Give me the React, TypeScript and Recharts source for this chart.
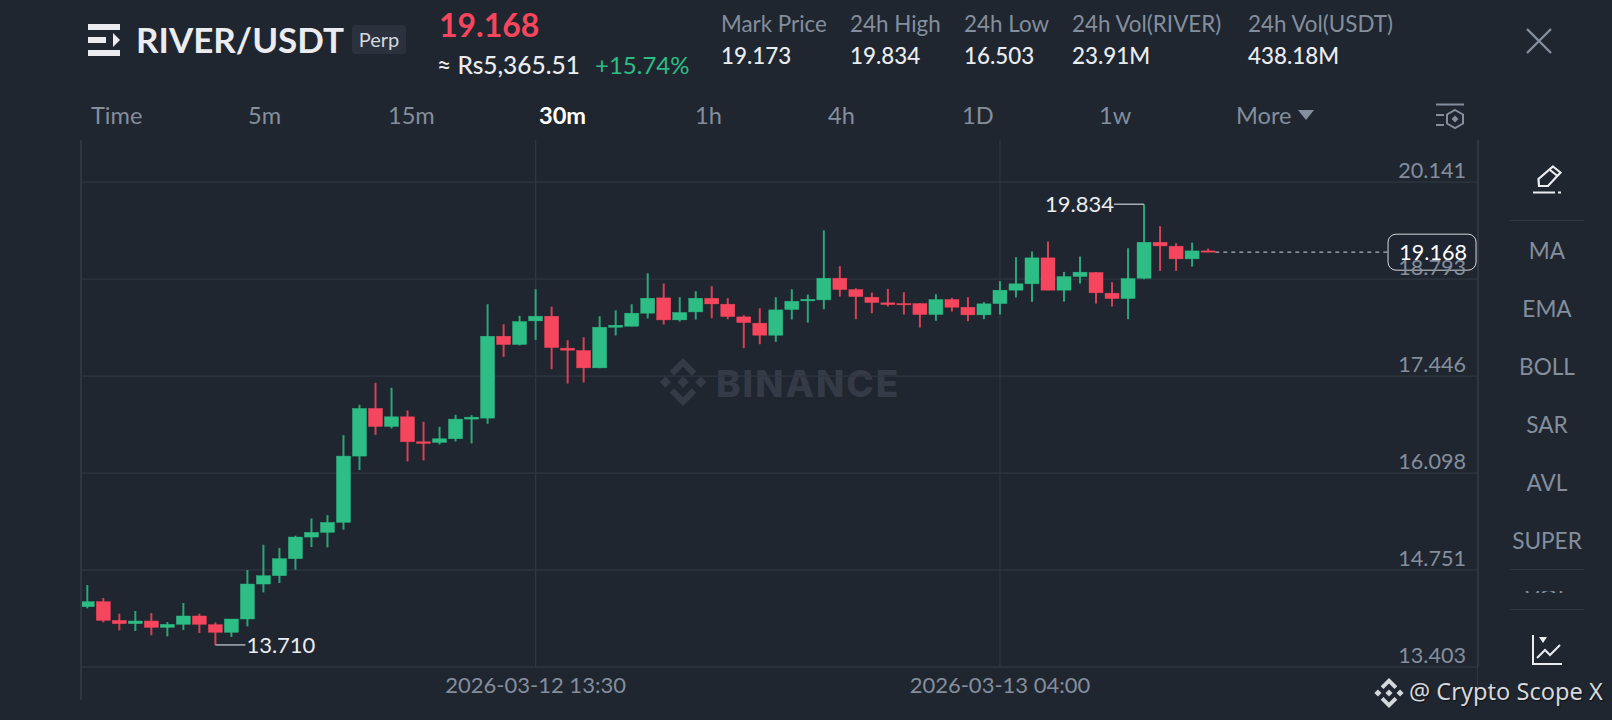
import {
  Bar,
  CartesianGrid,
  ComposedChart,
  ReferenceDot,
  ReferenceLine,
  XAxis,
  YAxis,
} from "recharts";

const opens = [
  14.241, 14.311, 14.051, 14.005, 14.042, 13.954, 13.996, 14.112, 13.991, 13.885, 14.07, 14.556,
  14.672, 14.908, 15.209, 15.274, 15.413, 16.334, 16.996, 16.746, 16.88, 16.533, 16.524, 16.575,
  16.848, 16.862, 18.0, 17.885, 18.213, 18.278, 17.834, 17.801, 17.56, 18.125, 18.139, 18.32,
  18.533, 18.227, 18.338, 18.528, 18.445, 18.269, 18.181, 18.014, 18.371, 18.491, 18.505, 18.806,
  18.648, 18.542, 18.464, 18.454, 18.454, 18.302, 18.51, 18.403, 18.297, 18.454, 18.64, 18.728,
  19.089, 18.64, 18.829, 18.885, 18.598, 18.524, 18.806, 19.306, 19.251, 19.075, 19.186,
];
const closes = [
  14.311, 14.051, 14.005, 14.042, 13.954, 13.996, 14.112, 13.996, 13.885, 14.07, 14.556, 14.672,
  14.908, 15.209, 15.274, 15.413, 16.334, 16.996, 16.746, 16.88, 16.533, 16.51, 16.575, 16.848,
  16.875, 18.0, 17.885, 18.204, 18.278, 17.843, 17.806, 17.56, 18.125, 18.153, 18.32, 18.528,
  18.227, 18.329, 18.528, 18.449, 18.273, 18.19, 18.014, 18.366, 18.486, 18.514, 18.806, 18.648,
  18.551, 18.468, 18.44, 18.436, 18.302, 18.51, 18.403, 18.297, 18.45, 18.64, 18.728, 19.089,
  18.64, 18.829, 18.89, 18.603, 18.524, 18.802, 19.306, 19.255, 19.075, 19.186, 19.168,
];
const highs = [
  14.542, 14.362, 14.144, 14.181, 14.153, 14.028, 14.292, 14.144, 14.024, 14.07, 14.75, 15.102,
  15.056, 15.228, 15.468, 15.514, 16.625, 17.047, 17.352, 17.283, 16.968, 16.811, 16.741, 16.908,
  16.903, 18.445, 18.167, 18.283, 18.653, 18.412, 17.945, 17.986, 18.278, 18.361, 18.445, 18.875,
  18.732, 18.542, 18.625, 18.695, 18.528, 18.292, 18.389, 18.542, 18.653, 18.579, 19.472, 18.972,
  18.667, 18.607, 18.658, 18.612, 18.459, 18.584, 18.533, 18.542, 18.473, 18.765, 19.098, 19.177,
  19.316, 18.894, 19.107, 18.89, 18.751, 19.223, 19.834, 19.528, 19.292, 19.302, 19.218,
];
const lows = [
  14.218, 14.024, 13.913, 13.903, 13.843, 13.829, 13.917, 13.875, 13.71, 13.82, 13.968, 14.44,
  14.57, 14.755, 15.07, 15.065, 15.311, 16.139, 16.63, 16.718, 16.26, 16.274, 16.496, 16.537,
  16.51, 16.783, 17.713, 17.871, 17.949, 17.542, 17.343, 17.357, 17.556, 18.01, 18.135, 18.246,
  18.162, 18.204, 18.232, 18.25, 18.236, 17.834, 17.889, 17.922, 18.232, 18.19, 18.375, 18.551,
  18.236, 18.32, 18.413, 18.302, 18.121, 18.214, 18.343, 18.209, 18.237, 18.302, 18.538, 18.478,
  18.64, 18.482, 18.732, 18.454, 18.413, 18.237, 18.792, 18.908, 18.908, 18.968, 19.168,
];
const priceTicks = [13.403, 14.751, 16.098, 17.446, 18.793, 20.141];
const timeTicks = [28, 57];
const timeLabels = ["2026-03-12 13:30", "2026-03-13 04:00"];
const intervals = ["Time", "5m", "15m", "30m", "1h", "4h", "1D", "1w"];
const intervalLeft = [91, 248, 388, 539, 695, 828, 962, 1099];
const statLabels = ["Mark Price", "24h High", "24h Low", "24h Vol(RIVER)", "24h Vol(USDT)"];
const statValues = ["19.173", "19.834", "16.503", "23.91M", "438.18M"];
const statLeft = [721, 850, 964, 1072, 1248];
const indicators = ["MA", "EMA", "BOLL", "SAR", "AVL", "SUPER"];
const indicatorTop = [251, 309, 367, 425, 483, 541];

const lastPrice = 19.168;
const highest = 19.834;
const lowest = 13.71;

const candles = opens.map((open, i) => ({
  i,
  open,
  close: closes[i],
  high: highs[i],
  low: lows[i],
  range: [lows[i], highs[i]],
}));

const BG = "#1f2630";
const UP = "#2ebd85";
const DOWN = "#f6465d";
const GRID = "#2f3641";
const MUTED = "#848e9c";
const TEXT = "#eaecef";
const FONT = "Lato, Inter, sans-serif";

function Candle(props: any) {
  const { x, y, width, height, payload } = props;
  const { open, close, high, low } = payload;
  const up = close >= open;
  const color = up ? UP : DOWN;
  const perUnit = height / (high - low);
  const top = y + (high - Math.max(open, close)) * perUnit;
  const bodyH = Math.max(Math.abs(open - close) * perUnit, 1);
  const cx = x + width / 2;
  return (
    <g>
      <line x1={cx} x2={cx} y1={y} y2={y + height} stroke={color} strokeOpacity={0.85} strokeWidth={2} />
      <rect x={x} y={top} width={width} height={bodyH} fill={color} stroke={color} strokeOpacity={0.85} strokeWidth={0.5} />
    </g>
  );
}

function PriceTick(props: any) {
  const { y, payload } = props;
  return (
    <text x={1466} y={y - 4} textAnchor="end" fill={MUTED} fontSize={21.6} fontFamily={FONT}>
      {payload.value.toFixed(3)}
    </text>
  );
}

function TimeTick(props: any) {
  const { x, payload } = props;
  return (
    <text x={x} y={693} textAnchor="middle" fill={MUTED} fontSize={22} fontFamily={FONT}>
      {timeLabels[timeTicks.indexOf(payload.value)]}
    </text>
  );
}

function HighMark({ cx, cy }: any) {
  return (
    <g>
      <path d={`M${cx} ${cy} H${cx - 30}`} stroke="#a9aeb6" strokeWidth={1.5} fill="none" />
      <text x={cx - 30} y={cy + 8} textAnchor="end" fill={TEXT} fontSize={22} fontFamily={FONT}>
        {highest.toFixed(3)}
      </text>
    </g>
  );
}

function LowMark({ cx, cy }: any) {
  return (
    <g>
      <path d={`M${cx} ${cy} H${cx + 30}`} stroke="#a9aeb6" strokeWidth={1.5} fill="none" />
      <text x={cx + 31} y={cy + 8} fill={TEXT} fontSize={22} fontFamily={FONT}>
        {lowest.toFixed(3)}
      </text>
    </g>
  );
}

function LastTag({ cx, cy }: any) {
  return (
    <g>
      <rect x={cx - 1} y={cy - 18} width={88} height={36} rx={8} fill={BG} fillOpacity={0.85} stroke="#d5d8dd" strokeWidth={1} />
      <text x={cx + 78} y={cy + 8} textAnchor="end" fill="#ffffff" fontSize={21.6} fontFamily={FONT}>
        {lastPrice.toFixed(3)}
      </text>
    </g>
  );
}

function Label({ left, top, size, color, weight, children }: any) {
  return (
    <div
      style={{
        position: "absolute",
        left,
        top,
        transform: "translateY(-50%)",
        fontSize: size,
        color,
        fontWeight: weight ?? 400,
        whiteSpace: "nowrap",
        lineHeight: 1,
      }}
    >
      {children}
    </div>
  );
}

function Diamond({ x, y, size, color }: any) {
  const s = size / 2;
  const d = (cx: number, cy: number, r: number) =>
    `M${cx} ${cy - r}L${cx + r} ${cy}L${cx} ${cy + r}L${cx - r} ${cy}Z`;
  return (
    <svg style={{ position: "absolute", left: x - s, top: y - s }} width={size} height={size} viewBox="-19 -19 38 38">
      <path fill={color} d={d(0, 0, 4.5)} />
      <path fill={color} d={d(-14, 0, 4.5)} />
      <path fill={color} d={d(14, 0, 4.5)} />
      <path fill={color} d="M0 -19L10.5 -8.5L7 -5L0 -12L-7 -5L-10.5 -8.5Z" />
      <path fill={color} d="M0 19L10.5 8.5L7 5L0 12L-7 5L-10.5 8.5Z" />
    </svg>
  );
}

export default function App() {
  return (
    <div
      style={{
        position: "fixed",
        left: 0,
        top: 0,
        width: 1612,
        height: 720,
        background: BG,
        fontFamily: FONT,
        overflow: "hidden",
      }}
    >
      {/* header */}
      <svg style={{ position: "absolute", left: 88, top: 24 }} width={33} height={32} viewBox="0 0 33 32">
        <rect x={0} y={0} width={32} height={6} fill={TEXT} />
        <rect x={0} y={13} width={18} height={6} fill={TEXT} />
        <rect x={0} y={26} width={32} height={6} fill={TEXT} />
        <path d="M25 9L32 16L25 23Z" fill={TEXT} />
      </svg>
      <Label left={136} top={39} size={35} color={TEXT} weight={700}>RIVER/USDT</Label>
      <div
        style={{
          position: "absolute",
          left: 352,
          top: 25,
          width: 54,
          height: 29,
          background: "#2b323e",
          borderRadius: 4,
          color: "#d5d8dd",
          fontSize: 20,
          lineHeight: "28px",
          textAlign: "center",
        }}
      >
        Perp
      </div>
      <Label left={439} top={25} size={32} color={DOWN} weight={700}>19.168</Label>
      <Label left={437} top={65} size={24.5} color={TEXT} weight={500}>≈ Rs5,365.51</Label>
      <Label left={595} top={65} size={24} color={UP}>+15.74%</Label>
      {statLabels.map((s, i) => (
        <Label key={s} left={statLeft[i]} top={24} size={22.4} color={MUTED}>{s}</Label>
      ))}
      {statValues.map((s, i) => (
        <Label key={s} left={statLeft[i]} top={56} size={22.4} color={TEXT} weight={500}>{s}</Label>
      ))}
      <svg style={{ position: "absolute", left: 1526, top: 28 }} width={26} height={26}>
        <path d="M1 1L25 25M25 1L1 25" stroke={MUTED} strokeWidth={2.4} />
      </svg>

      {/* interval row */}
      {intervals.map((s, i) => (
        <Label
          key={s}
          left={intervalLeft[i]}
          top={116}
          size={23.6}
          color={s === "30m" ? "#ffffff" : MUTED}
          weight={s === "30m" ? 700 : 400}
        >
          {s}
        </Label>
      ))}
      <Label left={1236} top={116} size={23.6} color={MUTED}>More</Label>
      <svg style={{ position: "absolute", left: 1298, top: 110 }} width={16} height={10}>
        <path d="M0 0H16L8 10Z" fill={MUTED} />
      </svg>
      <svg style={{ position: "absolute", left: 1436, top: 103 }} width={28} height={27} fill="none" stroke={MUTED} strokeWidth={2}>
        <path d="M0 1.5H28M0 12H8M0 22H8" />
        <path d="M19 7L27 11.5V20.5L19 25L11 20.5V11.5Z" />
        <path d="M19 12.5L22.5 16L19 19.5L15.5 16Z" fill={MUTED} stroke="none" />
      </svg>

      {/* side panel */}
      <svg style={{ position: "absolute", left: 1533, top: 165 }} width={30} height={30} fill="none" stroke={TEXT} strokeWidth={2.2}>
        <path d="M20 1.5L27.5 7.5L15 21H6L5.5 14Z" />
        <path d="M17 5L24.5 11" />
        <path d="M0 27.5H22M25 27.5H28" />
      </svg>
      <div style={{ position: "absolute", left: 1510, top: 220, width: 74, height: 1, background: GRID }} />
      {indicators.map((s, i) => (
        <div
          key={s}
          style={{
            position: "absolute",
            left: 1497,
            width: 100,
            top: indicatorTop[i],
            transform: "translateY(-50%)",
            textAlign: "center",
            fontSize: 22.6,
            lineHeight: 1,
            color: MUTED,
          }}
        >
          {s}
        </div>
      ))}
      <div style={{ position: "absolute", left: 1510, top: 569, width: 74, height: 1, background: GRID }} />
      <div
        style={{
          position: "absolute",
          left: 1497,
          width: 100,
          top: 591,
          height: 2,
          overflow: "hidden",
          textAlign: "center",
          fontSize: 22.6,
          lineHeight: 1,
          color: MUTED,
        }}
      >
        <div style={{ marginTop: -4 }}>VOL</div>
      </div>
      <div style={{ position: "absolute", left: 1510, top: 609, width: 74, height: 1, background: GRID }} />
      <svg style={{ position: "absolute", left: 1532, top: 635 }} width={32} height={32} fill="none" stroke={TEXT} strokeWidth={2}>
        <path d="M1 0V29H30" />
        <path d="M5 23L13 15L18 20L28 10" />
        <path d="M7 2H15L11 8Z" fill={TEXT} stroke="none" />
      </svg>

      {/* watermark under the chart */}
      <Diamond x={683} y={382} size={48} color="#343b47" />
      <div
        style={{
          position: "absolute",
          left: 716,
          top: 383,
          transform: "translateY(-50%)",
          fontFamily: "Inter",
          fontWeight: 800,
          fontSize: 37,
          lineHeight: 1,
          letterSpacing: 2,
          color: "#343b47",
        }}
      >
        BINANCE
      </div>

      <div style={{ position: "absolute", left: 0, top: 0 }}>
        <ComposedChart
          width={1612}
          height={720}
          data={candles}
          margin={{ top: 140, right: 134, bottom: 0, left: 81 }}
        >
          <CartesianGrid stroke={GRID} strokeWidth={1.3} syncWithTicks />
          <XAxis
            dataKey="i"
            type="number"
            domain={[-0.394, 86.856]}
            allowDataOverflow
            ticks={timeTicks}
            tick={<TimeTick />}
            axisLine={false}
            tickLine={false}
            height={53}
          />
          <YAxis
            orientation="right"
            domain={[13.403, 20.727]}
            allowDataOverflow
            ticks={priceTicks}
            interval={0}
            tick={<PriceTick />}
            axisLine={false}
            tickLine={false}
            width={1}
            mirror
          />
          <ReferenceLine x={-0.394} stroke={GRID} strokeWidth={2} />
          <ReferenceLine x={86.856} stroke={GRID} strokeWidth={2} />
          <Bar dataKey="range" barSize={14} shape={<Candle />} isAnimationActive={false} />
          <ReferenceLine
            segment={[{ x: 70.45, y: lastPrice }, { x: 81.3, y: lastPrice }]}
            stroke="#a9aeb6"
            strokeWidth={1.3}
            strokeDasharray="4 4"
          />
          <ReferenceDot x={66} y={highest} r={0} shape={<HighMark />} />
          <ReferenceDot x={8} y={lowest} r={0} shape={<LowMark />} />
          <ReferenceDot x={81.3} y={lastPrice} r={0} shape={<LastTag />} />
        </ComposedChart>
      </div>

      {/* axis edges run on below the plot */}
      <div style={{ position: "absolute", left: 80, top: 667, width: 1.5, height: 33, background: GRID }} />
      <div style={{ position: "absolute", left: 1476.5, top: 667, width: 1.5, height: 26, background: GRID }} />

      <Diamond x={1389} y={693} size={30} color="#d5d8dd" />
      <div
        style={{
          position: "absolute",
          left: 1409,
          top: 692,
          transform: "translateY(-50%)",
          fontFamily: "'Noto Sans'",
          fontSize: 23.6,
          lineHeight: 1,
          color: "#d5d8dd",
          textShadow: "1px 1px 1px #111",
          whiteSpace: "nowrap",
        }}
      >
        @ Crypto Scope X
      </div>
    </div>
  );
}
